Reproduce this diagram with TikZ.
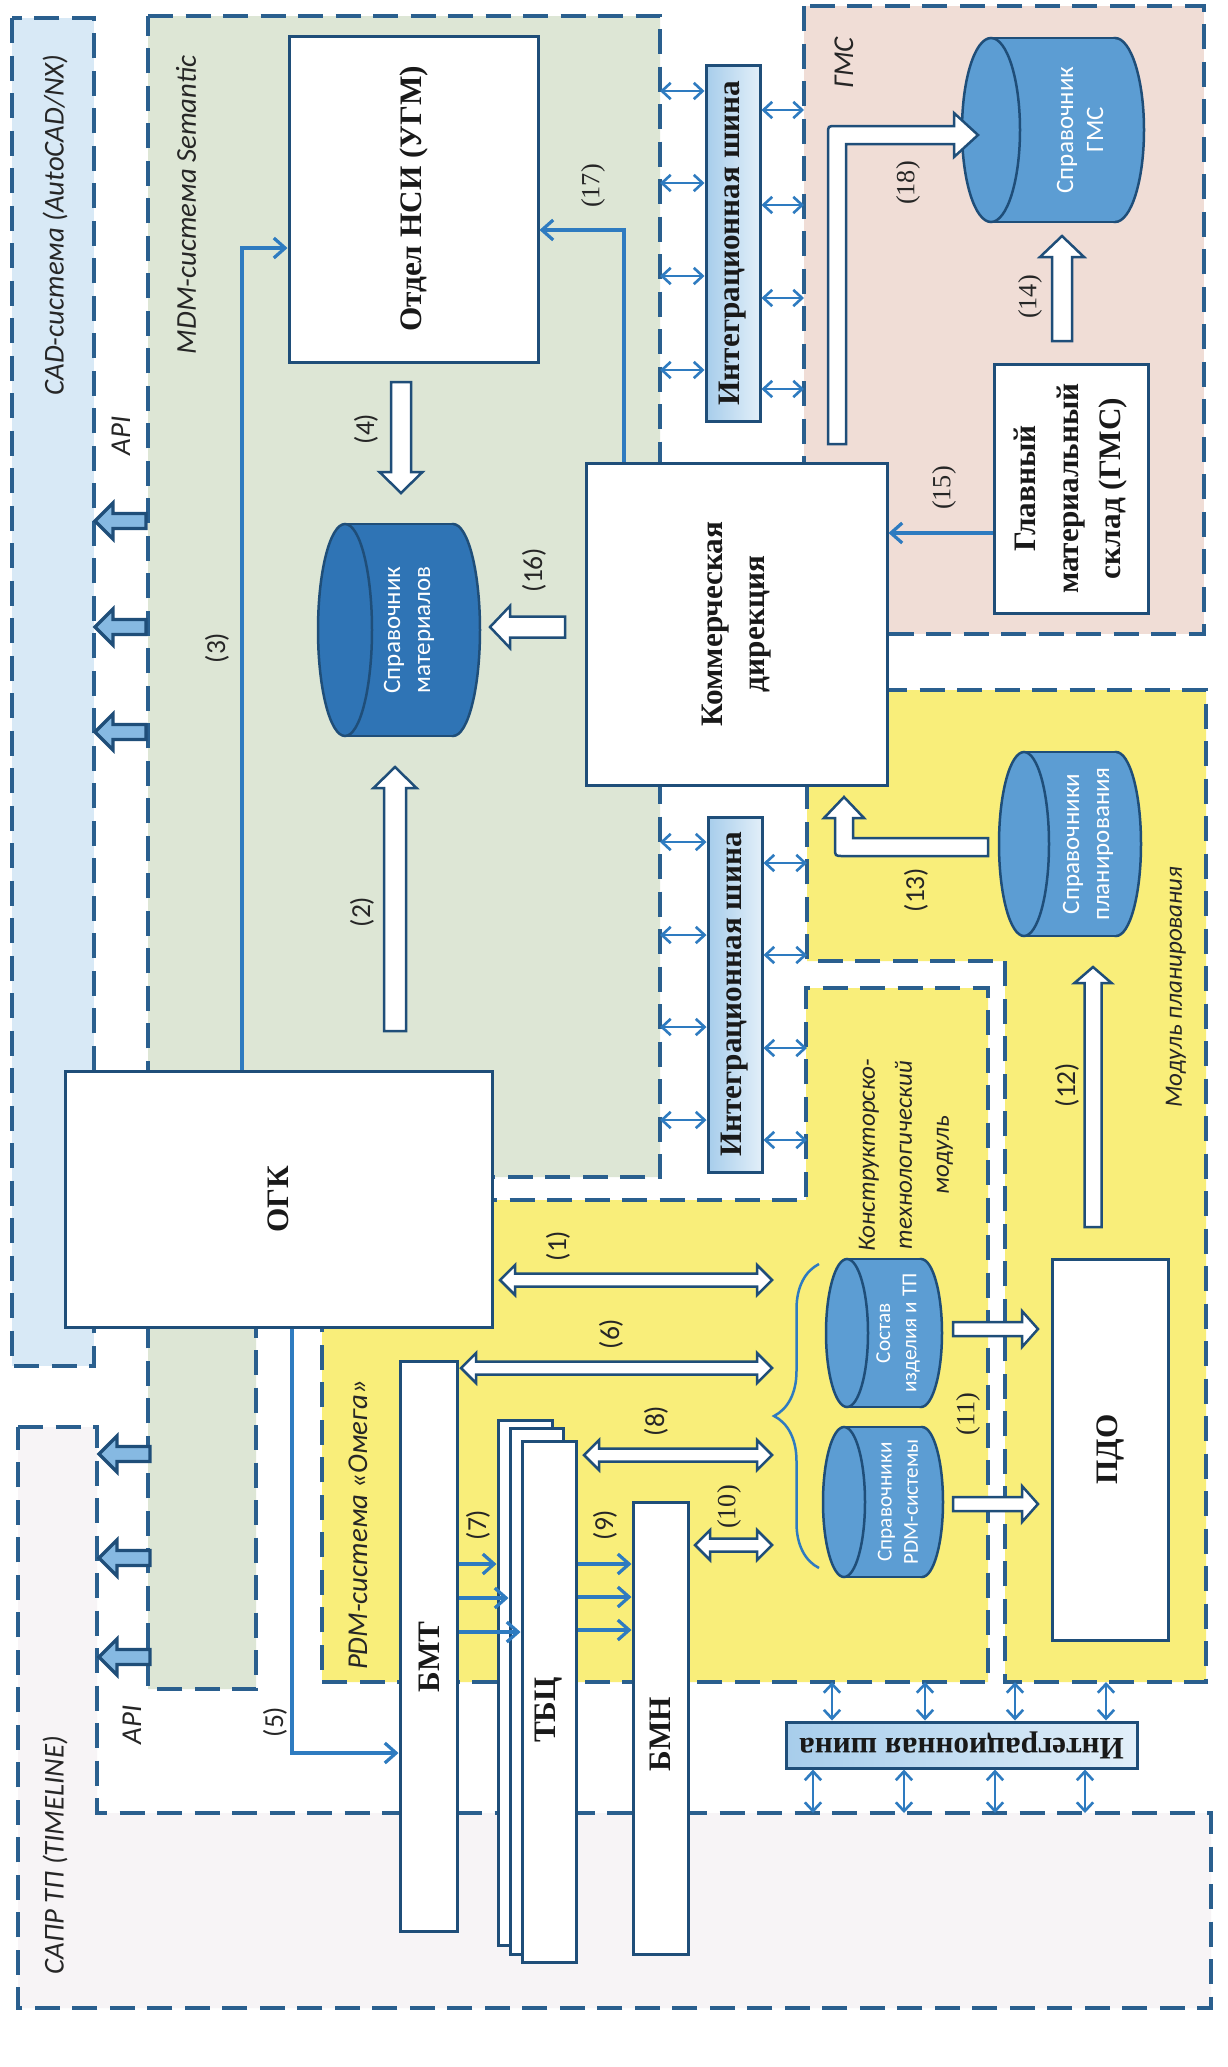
\documentclass[tikz,border=0pt]{standalone}
\usepackage{fontspec}
\setmainfont{Liberation Serif}
\setsansfont{Carlito}
\usetikzlibrary{positioning,arrows.meta,fit,decorations.pathreplacing}

\definecolor{dkblue}{HTML}{1F4E79}
\definecolor{dashblue}{HTML}{2A5F8E}
\definecolor{midblue}{HTML}{2E7BC0}
\definecolor{cadfill}{HTML}{D8E9F6}
\definecolor{mdmfill}{HTML}{DDE6D5}
\definecolor{gmsfill}{HTML}{F0DDD6}
\definecolor{pdmfill}{HTML}{F9EE7A}
\definecolor{saprfill}{HTML}{F7F4F6}
\definecolor{cyldark}{HTML}{2F74B5}
\definecolor{cyllight}{HTML}{5C9DD3}
\definecolor{apifill}{HTML}{86B9E2}
\definecolor{busL}{HTML}{A7CDEB}
\definecolor{busR}{HTML}{E2EFF9}

\tikzset{
  pics/sarrow/.style n args={4}{code={%
    \path[pic actions] (0,-#2) -- ({#1-#4},-#2) -- ({#1-#4},-#3) -- (#1,0)
      -- ({#1-#4},#3) -- ({#1-#4},#2) -- (0,#2) -- cycle;}},
  pics/darrow/.style n args={4}{code={%
    \path[pic actions] (0,0) -- (#4,-#3) -- (#4,-#2) -- ({#1-#4},-#2) -- ({#1-#4},-#3)
      -- (#1,0) -- ({#1-#4},#3) -- ({#1-#4},#2) -- (#4,#2) -- (#4,#3) -- cycle;}}
}

% database drum lying on its side: centre x, centre y, half width, half height, face radius, colour
\newcommand{\dbcyl}[6]{%
  \filldraw[cylline, fill=#6] ({#1+#3-#5},#2) ellipse [x radius=#5, y radius=#4];
  \fill[#6] ({#1-#3+#5},{#2-#4}) rectangle ({#1+#3-#5},{#2+#4});
  \draw[cylline] ({#1-#3+#5},{#2-#4}) -- ({#1+#3-#5},{#2-#4})
                 ({#1-#3+#5},{#2+#4}) -- ({#1+#3-#5},{#2+#4});
  \filldraw[cylline, fill=#6] ({#1-#3+#5},#2) ellipse [x radius=#5, y radius=#4];}

\begin{document}
\begin{tikzpicture}[x=0.4pt, y=-0.4pt,
  region/.style={draw=dashblue, line width=1.4pt, dash pattern=on 10pt off 5pt},
  box/.style={draw=dkblue, line width=1.2pt, fill=white, inner sep=0pt},
  boxtext/.style={rotate=90, font=\bfseries\fontsize{12.5}{17}\selectfont, align=center, text=black!90},
  bus/.style={draw=dkblue, line width=1.2pt, left color=busL, right color=busR, inner sep=0pt},
  note/.style={rotate=90, font=\sffamily\itshape\fontsize{11.5}{14.5}\selectfont, align=center, text=black!85},
  smallnote/.style={note, font=\sffamily\itshape\fontsize{10}{14.8}\selectfont},
  num/.style={rotate=90, font=\sffamily\fontsize{11}{13}\selectfont, text=black!85},
  nums/.style={rotate=90, font=\fontsize{10.5}{13}\selectfont, text=black!85},
  conn/.style={draw=midblue, line width=1.3pt, -{Straight Barb[length=4.5pt,width=8pt]}},
  busarr/.style={draw=midblue, line width=1.05pt,
    {Straight Barb[length=3.5pt,width=6.5pt]}-{Straight Barb[length=3.5pt,width=6.5pt]}},
  hollow/.style={draw=dkblue, fill=white, line width=1pt, line join=miter},
  apiarr/.style={draw=dkblue, fill=apifill, line width=1.3pt},
  cylline/.style={draw=dkblue, line width=1pt},
  cyltext/.style={rotate=90, text=white, font=\sffamily\fontsize{10}{12}\selectfont, align=center},
  brace/.style={draw=midblue, line width=1pt, decorate, decoration={brace, amplitude=18pt}}]

\fill[white] (0,0) rectangle (1227,2067);
\useasboundingbox (0,0) rectangle (1227,2067);

% subsystems
\draw[region, fill=cadfill] (12,18) rectangle (94,1366);
\draw[region, fill=mdmfill] (148,16) -- (660,16) -- (660,1177) -- (256,1177) -- (256,1689) -- (148,1689) -- cycle;
\draw[region, fill=gmsfill] (804,6) rectangle (1204,634);
\draw[region, fill=pdmfill] (807,690) -- (1206,690) -- (1206,1682) -- (1005,1682) -- (1005,961) -- (807,961) -- cycle;
\draw[region, fill=pdmfill] (322,1200) -- (806,1200) -- (806,988) -- (988,988) -- (988,1682) -- (322,1682) -- cycle;
\draw[region, fill=saprfill] (18,1427) -- (97,1427) -- (97,1813) -- (1211,1813) -- (1211,2008) -- (18,2008) -- cycle;

\node[note] (cadl) at (55,225) {CAD-система (AutoCAD/NX)};
\node[note] (mdml) at (186,205) {MDM-система Semantic};
\node[note] (api1) at (121,436) {API};
\node[note] (api2) at (132,1725) {API};
\node[note] (gmsl) at (844,63) {ГМС};
\node[note] (pdml) at (358,1525) {PDM-система «Омега»};
\node[smallnote] (ktml) at (906,1155) {Конструкторско-\\технологический\\модуль};
\node[smallnote] (mpl) at (1176,987) {Модуль планирования};
\node[note] (saprl) at (55,1855) {САПР ТП (TIMELINE)};

% departments and blocks
\node[box, fit={(289,36) (538,362)}] (nsi) {};
\node[box, fit={(586,463) (887,785)}] (komm) {};
\node[box, fit={(994,364) (1148,613)}] (gmsb) {};
\node[box, fit={(65,1071) (492,1327)}] (ogk) {};
\node[box, fit={(1052,1259) (1168,1640)}] (pdo) {};
\node[box, fit={(400,1361) (457,1931)}] (bmt) {};
\node[box, fit={(498,1420) (552,1945)}] (tbc3) {};
\node[box, fit={(510,1428) (563,1954)}] (tbc2) {};
\node[box, fit={(522,1441) (576,1962)}] (tbc) {};
\node[box, fit={(633,1502) (688,1954)}] (bmn) {};
\node[boxtext] (nsit) at (nsi.center) {Отдел НСИ (УГМ)};
\node[boxtext] (kommt) at (komm.center) {Коммерческая\\дирекция};
\node[boxtext] (gmsbt) at (gmsb.center) {Главный\\материальный\\склад (ГМС)};
\node[boxtext] (ogkt) at (ogk.center) {ОГК};
\node[boxtext] (pdot) at (pdo.center) {ПДО};
\node[boxtext] (bmtt) at (429,1657) {БМТ};
\node[boxtext] (tbct) at (549,1710) {ТБЦ};
\node[boxtext] (bmnt) at (660,1734) {БМН};

% integration buses
\node[bus, fit={(706,65) (760,421)}] (bus1) {};
\node[bus, fit={(708,817) (762,1172)}] (bus2) {};
\node[bus, fit={(786,1722) (1137,1768)}] (bus3) {};
\node[boxtext] at (bus1.center) {Интеграционная шина};
\node[boxtext] at (bus2.center) {Интеграционная шина};
\node[boxtext, rotate=90] at (bus3.center) {Интеграционная шина};

\coordinate (mdmE) at (660,0);
\coordinate (gmsW) at (804,0);
\coordinate (mpW) at (807,0);
\coordinate (pdmS) at (0,1682);
\coordinate (saprN) at (0,1813);
\foreach \yy in {91,183,276,370} \draw[busarr] (mdmE |- 0,\yy) -- (bus1.west |- 0,\yy);
\foreach \yy in {110,205,298,389} \draw[busarr] (bus1.east |- 0,\yy) -- (gmsW |- 0,\yy);
\foreach \yy in {842,935,1027,1120} \draw[busarr] (mdmE |- 0,\yy) -- (bus2.west |- 0,\yy);
\foreach \yy in {863,955,1048,1140} \draw[busarr] (bus2.east |- 0,\yy) -- (mpW |- 0,\yy);
\foreach \xx in {832,925,1015,1106} \draw[busarr] (pdmS -| \xx,0) -- (bus3.north -| \xx,0);
\foreach \xx in {813,904,995,1085} \draw[busarr] (bus3.south -| \xx,0) -- (saprN -| \xx,0);

% reference books
\dbcyl{399}{630}{81}{106}{27}{cyldark}
\dbcyl{1053}{130}{91}{92}{29}{cyllight}
\dbcyl{1070}{844}{71}{92}{25}{cyllight}
\dbcyl{884}{1333}{58}{74}{21}{cyllight}
\dbcyl{883}{1502}{60}{75}{21}{cyllight}
\node[cyltext] (sprmat) at (409,630) {Справочник\\материалов};
\node[cyltext] (sprgms) at (1080,130) {Справочник\\ГМС};
\node[cyltext] (sprplan) at (1088,844) {Справочники\\планирования};
\node[cyltext, font=\sffamily\fontsize{8.5}{10.5}\selectfont] (sostav) at (898,1333) {Состав\\изделия и ТП};
\node[cyltext, font=\sffamily\fontsize{8.5}{10.5}\selectfont] (sprpdm) at (898,1502) {Справочники\\PDM-системы};
\draw[brace] (819,1568) -- (819,1264);

% data links
\coordinate (c3) at (242,248);
\coordinate (c17) at (624,230);
\coordinate (c15) at (940,533);
\coordinate (c5) at (292,1753);
\draw[conn] (ogk.north -| c3) -- (c3) -- (c3 -| nsi.west);
\draw[conn] (komm.north -| c17) -- (c17) -- (c17 -| nsi.east);
\draw[conn] (c15 -| gmsb.west) -- (c15 -| komm.east);
\draw[conn] (ogk.south -| c5) -- (c5) -- (c5 -| bmt.west);
\foreach \yy/\nm in {1564/tbc3, 1598/tbc2, 1632/tbc} \draw[conn] (bmt.east |- 0,\yy) -- (\nm.west |- 0,\yy);
\foreach \yy in {1564,1597,1630} \draw[conn] (tbc.east |- 0,\yy) -- (bmn.west |- 0,\yy);

% block arrows
\pic[hollow, rotate=90] at (395,1031) {sarrow={264}{11}{21.5}{21}};
\pic[hollow, rotate=-90] at (401,382) {sarrow={111}{10}{21.5}{21}};
\pic[hollow, rotate=180] at (565,627) {sarrow={75}{10.5}{21}{20}};
\pic[hollow, rotate=90] at (1062,341) {sarrow={105}{10}{22}{21}};
\pic[hollow] at (953,1329) {sarrow={85}{7}{18}{16}};
\pic[hollow] at (953,1504) {sarrow={85}{7}{18}{16}};
\pic[hollow, rotate=90] at (1093,1227) {sarrow={260}{8.5}{18.5}{16}};
\pic[hollow] at (500,1280) {darrow={272}{6.5}{15}{15}};
\pic[hollow] at (461,1368) {darrow={311}{6.5}{15}{15}};
\pic[hollow] at (584,1455) {darrow={188}{6.5}{15}{15}};
\pic[hollow] at (695,1545) {darrow={77}{6.5}{15}{15}};
\draw[hollow] (988,838) -- (853,838) -- (853,818) -- (864,818) -- (844,797) -- (824,818) -- (835,818)
  -- (835,848) .. controls (835,856) .. (843,856) -- (988,856) -- cycle;
\draw[hollow] (846,444) -- (846,144) -- (954,144) -- (954,157) -- (978,135) -- (954,113) -- (954,126)
  -- (836,126) .. controls (828,126) .. (828,134) -- (828,444) -- cycle;
\foreach \yy in {521,627,732} \pic[apiarr, rotate=180] at (146,\yy) {sarrow={51}{7.5}{18}{18}};
\foreach \yy in {1454,1558,1657} \pic[apiarr, rotate=180] at (150,\yy) {sarrow={51}{7.5}{18}{18}};

% link numbers
\node[num] at (558,1246) {(1)};
\node[num] at (362,912) {(2)};
\node[num] at (217,648) {(3)};
\node[num] at (366,429) {(4)};
\node[num] at (275,1722) {(5)};
\node[num] at (611,1334) {(6)};
\node[num] at (478,1525) {(7)};
\node[num] at (656,1421) {(8)};
\node[num] at (605,1525) {(9)};
\node[nums] at (729,1507) {(10)};
\node[nums] at (968,1414) {(11)};
\node[num] at (1067,1085) {(12)};
\node[num] at (916,890) {(13)};
\node[nums] at (1030,297) {(14)};
\node[nums] at (944,488) {(15)};
\node[num] at (534,570) {(16)};
\node[nums] at (593,186) {(17)};
\node[nums] at (908,183) {(18)};
\end{tikzpicture}
\end{document}
